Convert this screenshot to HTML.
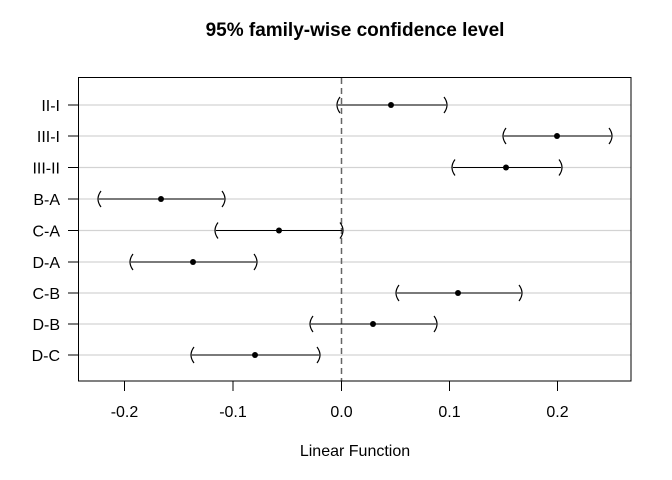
<!DOCTYPE html>
<html><head><style>body{margin:0;background:#fff}svg{display:block}</style></head><body>
<svg width="672" height="480" xmlns="http://www.w3.org/2000/svg" font-family="Liberation Sans, Arial, sans-serif">
<rect width="672" height="480" fill="#fff"/>
<text x="355" y="36" text-anchor="middle" font-weight="bold" font-size="19">95% family-wise confidence level</text>
<g stroke="#d3d3d3" stroke-width="1.2">
<line x1="79" x2="631" y1="105" y2="105"/><line x1="79" x2="631" y1="136" y2="136"/><line x1="79" x2="631" y1="167.5" y2="167.5"/><line x1="79" x2="631" y1="199" y2="199"/><line x1="79" x2="631" y1="230.5" y2="230.5"/><line x1="79" x2="631" y1="262" y2="262"/><line x1="79" x2="631" y1="293" y2="293"/><line x1="79" x2="631" y1="324" y2="324"/><line x1="79" x2="631" y1="355" y2="355"/>
</g>
<line x1="341.5" x2="341.5" y1="78" y2="381" stroke="#666" stroke-width="1.5" stroke-dasharray="6,4"/>
<g stroke="#000" stroke-width="1" fill="none">
<path d="M338 105H446 M504 136H611 M453 167.5H561 M99 199H224 M216 230.5H342 M131 262H256 M397 293H521 M311 324H436 M192 355H319"/>
<g stroke-width="1.2">
<path d="M340 97Q334 105 340 113 M444 97Q450 105 444 113"/>
<path d="M506 128Q500 136 506 144 M609 128Q615 136 609 144"/>
<path d="M455 159.5Q449 167.5 455 175.5 M559 159.5Q565 167.5 559 175.5"/>
<path d="M101 191Q95 199 101 207 M222 191Q228 199 222 207"/>
<path d="M218 222.5Q212 230.5 218 238.5 M340 222.5Q346 230.5 340 238.5"/>
<path d="M133 254Q127 262 133 270 M254 254Q260 262 254 270"/>
<path d="M399 285Q393 293 399 301 M519 285Q525 293 519 301"/>
<path d="M313 316Q307 324 313 332 M434 316Q440 324 434 332"/>
<path d="M194 347Q188 355 194 363 M317 347Q323 355 317 363"/>
</g>
</g>
<g fill="#000">
<circle cx="391" cy="105" r="3"/><circle cx="557" cy="136" r="3"/><circle cx="506" cy="167.5" r="3"/><circle cx="161" cy="199" r="3"/><circle cx="279" cy="230.5" r="3"/><circle cx="193" cy="262" r="3"/><circle cx="458" cy="293" r="3"/><circle cx="373" cy="324" r="3"/><circle cx="255" cy="355" r="3"/>
</g>
<rect x="78.5" y="77.5" width="552.5" height="303.5" fill="none" stroke="#000" stroke-width="1"/>
<g stroke="#000">
<path d="M68 105H78 M68 136H78 M68 167.5H78 M68 199H78 M68 230.5H78 M68 262H78 M68 293H78 M68 324H78 M68 355H78"/>
<path d="M124.5 381V391 M233 381V391 M341.5 381V391 M449.5 381V391 M557.5 381V391"/>
</g>
<g font-size="16" text-anchor="end">
<text x="60" y="111">II-I</text><text x="60" y="142">III-I</text><text x="60" y="173.5">III-II</text><text x="60" y="205">B-A</text><text x="60" y="236.5">C-A</text><text x="60" y="268">D-A</text><text x="60" y="299">C-B</text><text x="60" y="330">D-B</text><text x="60" y="361">D-C</text>
</g>
<g font-size="16" text-anchor="middle">
<text x="124.5" y="417">-0.2</text><text x="233" y="417">-0.1</text><text x="341.5" y="417">0.0</text><text x="449.5" y="417">0.1</text><text x="557.5" y="417">0.2</text>
<text x="355" y="456">Linear Function</text>
</g>
</svg>
</body></html>
